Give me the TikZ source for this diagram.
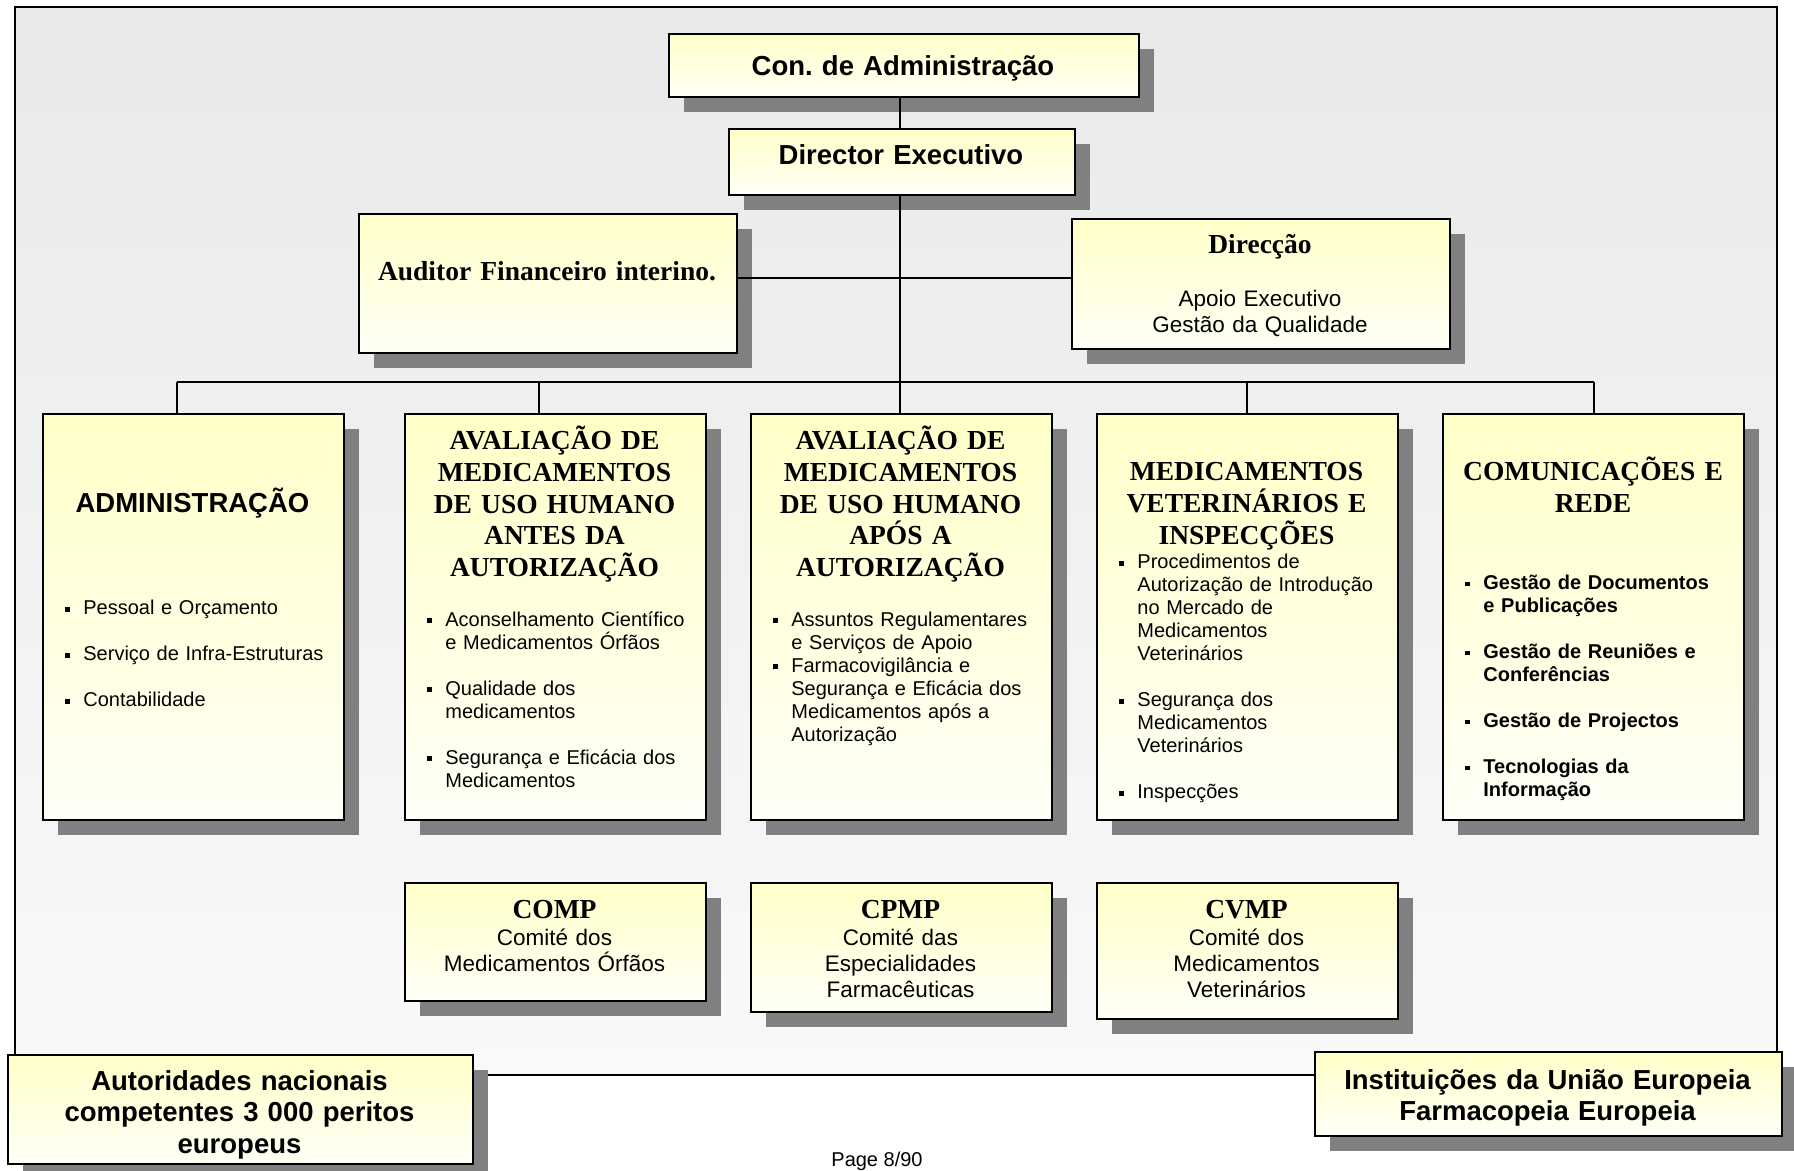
\documentclass[tikz,border=0pt]{standalone}
\usepackage{fontspec}
\setmainfont{Liberation Sans}
\newfontfamily\tnr{Liberation Serif}
\usepackage{tikz}
\usetikzlibrary{shadows}

\definecolor{bgtop}{RGB}{233,233,233}
\definecolor{bgbot}{RGB}{249,249,249}
\definecolor{boxtop}{RGB}{255,255,200}
\definecolor{boxbot}{RGB}{255,255,247}
\definecolor{shade}{RGB}{128,128,128}

\newcommand{\sqbul}{\rule[1.5pt]{2.4pt}{2.4pt}}
\newcommand{\bitem}[1]{\hangindent=9pt\hangafter=1\noindent\makebox[9pt][l]{\sqbul}{\let\\\newline#1}\par}
\newcommand{\gap}{\vspace{11.5pt}}

\begin{document}
\begin{tikzpicture}[x=0.5pt,y=-0.5pt,
    box/.style={draw,line width=1pt,anchor=north west,inner sep=0pt,
        top color=boxtop,bottom color=boxbot,
        drop shadow={shadow xshift=7.5pt,shadow yshift=-7.5pt,fill=shade,opacity=1}},
    bigbox/.style={box,minimum width=150.5pt,minimum height=203pt},
    sanshead/.style={font=\fontsize{13.75}{15.75}\selectfont\bfseries,anchor=base,text width=240pt,align=center,inner sep=0pt},
    serifhead/.style={font=\tnr\fontsize{13.75}{15.9}\selectfont\bfseries,anchor=base,text width=180pt,align=center,inner sep=0pt},
    sub/.style={font=\fontsize{11.25}{13}\selectfont,anchor=base,text width=160pt,align=center,inner sep=0pt},
    items/.style={font=\fontsize{10}{11.5}\selectfont,anchor=base west,text width=150pt,align=left,inner sep=0pt},
    link/.style={line width=0.8pt}]
    \useasboundingbox (0,0) rectangle (1794,1171);
    \draw[line width=0.9pt,top color=bgtop,bottom color=bgbot] (15,7) rectangle (1777,1075);

    \node[box,minimum width=235pt,minimum height=31.5pt] (con) at (668,33) {};
    \node[box,minimum width=173pt,minimum height=33pt] (dir) at (728,128) {};
    \node[box,minimum width=189pt,minimum height=69.5pt] (aud) at (358,213) {};
    \node[box,minimum width=189pt,minimum height=65pt] (dirc) at (1071,218) {};

    \node[bigbox] (adm) at (42,413) {};
    \node[bigbox] (ant) at (404,413) {};
    \node[bigbox] (apo) at (750,413) {};
    \node[bigbox] (vet) at (1096,413) {};
    \node[bigbox] (com) at (1442,413) {};

    \node[box,minimum width=150.5pt,minimum height=59pt] (comp) at (404,882) {};
    \node[box,minimum width=150.5pt,minimum height=64.5pt] (cpmp) at (750,882) {};
    \node[box,minimum width=150.5pt,minimum height=68pt] (cvmp) at (1096,882) {};

    \node[box,minimum width=232.5pt,minimum height=54.5pt] (aut) at (7,1054) {};
    \node[box,minimum width=233.5pt,minimum height=42pt] (inst) at (1314,1051) {};

    \coordinate (mid) at (900,278);
    \coordinate (bus1) at (177,382);
    \coordinate (bus2) at (539,382);
    \coordinate (bus3) at (900,382);
    \coordinate (bus4) at (1247,382);
    \coordinate (bus5) at (1594,382);
    \draw[link] (dir.north -| bus3) -- (con.south -| bus3);
    \draw[link] (dir.south -| bus3) -- (bus3);
    \draw[link] (aud.east |- mid) -- (dirc.west |- mid);
    \draw[link] (bus1) -- (bus5);
    \draw[link] (bus1) -- (bus1 |- adm.north);
    \draw[link] (bus2) -- (bus2 |- ant.north);
    \draw[link] (bus3) -- (bus3 |- apo.north);
    \draw[link] (bus4) -- (bus4 |- vet.north);
    \draw[link] (bus5) -- (bus5 |- com.north);

    \node[sanshead] (cont) at (903,76) {Con.\ de Administração};
    \node[sanshead] (dirt) at (901,164.5) {Director Executivo};
    \node[serifhead] (audt) at (547,281) {Auditor Financeiro interino.};
    \node[serifhead] (dirct) at (1260,254) {Direcção};
    \node[sub] (dircs) at (1260,307) {Apoio Executivo\\Gestão da Qualidade};

    \node[sanshead] (admt) at (192.5,513) {ADMINISTRAÇÃO};
    \node[serifhead] (antt) at (554.5,449.5) {AVALIAÇÃO DE\\MEDICAMENTOS\\DE USO HUMANO\\ANTES DA\\AUTORIZAÇÃO};
    \node[serifhead] (apot) at (900.5,449.5) {AVALIAÇÃO DE\\MEDICAMENTOS\\DE USO HUMANO\\APÓS A\\AUTORIZAÇÃO};
    \node[serifhead] (vett) at (1246.5,480.5) {MEDICAMENTOS\\VETERINÁRIOS E\\INSPECÇÕES};
    \node[serifhead] (comt) at (1593,480.5) {COMUNICAÇÕES E\\REDE};

    \node[items] (admi) at (65,614.5) {\bitem{Pessoal e Orçamento}\gap
        \bitem{Serviço de Infra-Estruturas}\gap
        \bitem{Contabilidade}};
    \node[items] (anti) at (427,626) {\bitem{Aconselhamento Científico\\e Medicamentos Órfãos}\gap
        \bitem{Qualidade dos\\medicamentos}\gap
        \bitem{Segurança e Eficácia dos\\Medicamentos}};
    \node[items] (apoi) at (773,626) {\bitem{Assuntos Regulamentares\\e Serviços de Apoio}
        \bitem{Farmacovigilância e\\Segurança e Eficácia dos\\Medicamentos após a\\Autorização}};
    \node[items] (veti) at (1119,568.7) {\bitem{Procedimentos de\\Autorização de Introdução\\no Mercado de\\Medicamentos\\Veterinários}\gap
        \bitem{Segurança dos\\Medicamentos\\Veterinários}\gap
        \bitem{Inspecções}};
    \node[items,font=\fontsize{10}{11.5}\selectfont\bfseries] (comi) at (1465,589.3) {\bitem{Gestão de Documentos\\e Publicações}\gap
        \bitem{Gestão de Reuniões e\\Conferências}\gap
        \bitem{Gestão de Projectos}\gap
        \bitem{Tecnologias da\\Informação}};

    \node[serifhead] (compt) at (554.5,918.5) {COMP};
    \node[sub] (comps) at (554.5,945) {Comité dos\\Medicamentos Órfãos};
    \node[serifhead] (cpmpt) at (900.5,918.5) {CPMP};
    \node[sub] (cpmps) at (900.5,945) {Comité das\\Especialidades\\Farmacêuticas};
    \node[serifhead] (cvmpt) at (1246.5,918.5) {CVMP};
    \node[sub] (cvmps) at (1246.5,945) {Comité dos\\Medicamentos\\Veterinários};

    \node[sanshead] (autt) at (239.5,1090) {Autoridades nacionais\\competentes 3 000 peritos\\europeus};
    \node[sanshead] (instt) at (1547.5,1089) {Instituições da União Europeia\\Farmacopeia Europeia};
    \node[font=\fontsize{10}{12}\selectfont,anchor=base,inner sep=0pt] (pg) at (877,1166) {Page 8/90};
\end{tikzpicture}
\end{document}
